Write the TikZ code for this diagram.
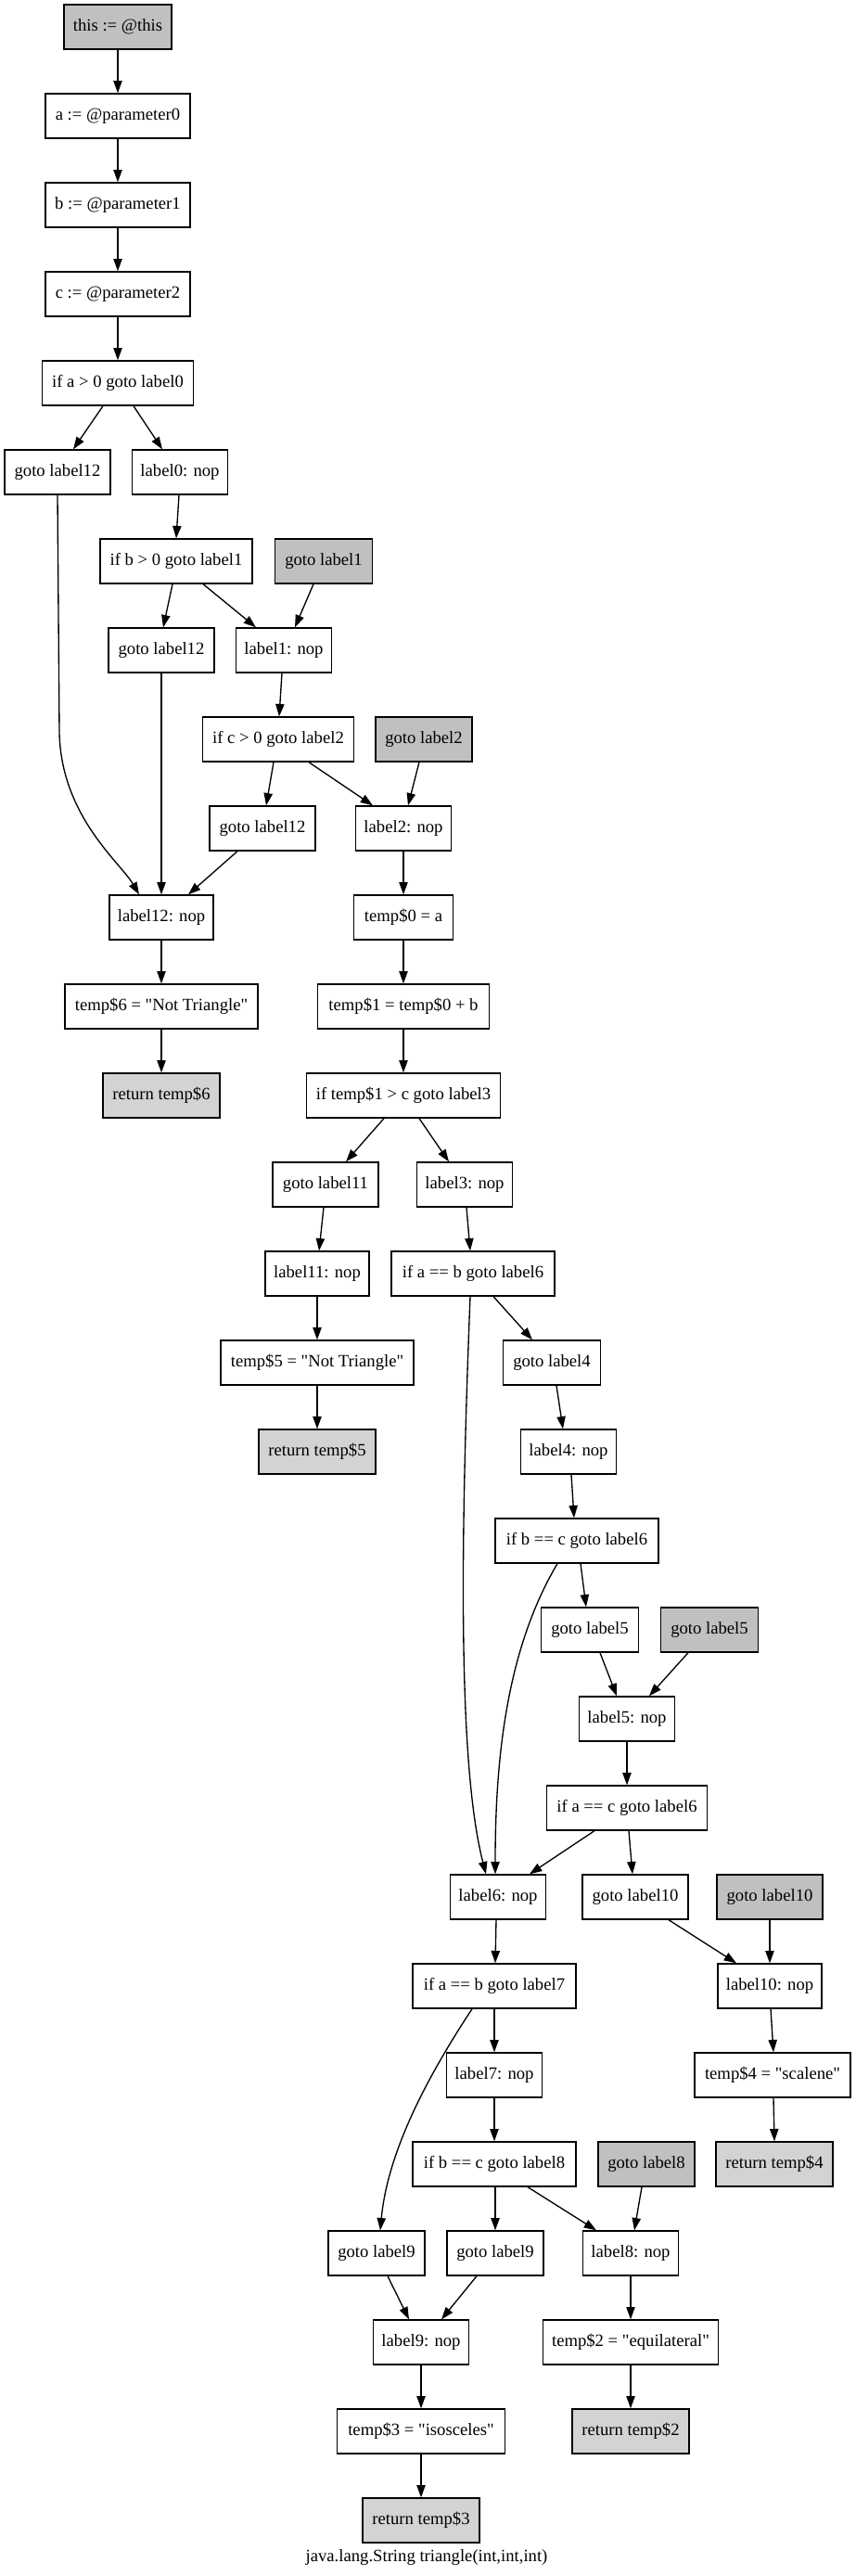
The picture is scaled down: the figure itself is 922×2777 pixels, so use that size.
\documentclass[tikz,border=0pt]{standalone}
\usepackage{fontspec}
\newfontfamily\gvfont{Liberation Serif}
\usetikzlibrary{arrows.meta,calc}
\definecolor{gvgray}{HTML}{C0C0C0}
\definecolor{gvlight}{HTML}{D3D3D3}
\newcommand\myedge[4]{\draw[edge] ($(#1.south)+(#2,0)$) -- ($(#3.north)+(#4,0)$);}
\begin{document}
\begin{tikzpicture}[x=0.75pt,y=-0.75pt,
  box/.style={draw=black,line width=1pt,rectangle,minimum height=36pt,inner sep=0pt,font=\gvfont\fontsize{14pt}{16pt}\selectfont},
  gbox/.style={box,fill=gvgray},
  rbox/.style={box,fill=gvlight},
  edge/.style={draw=black,line width=1pt,-{Triangle[length=10pt,width=7pt]}}]
\useasboundingbox[fill=white] (0,0) rectangle (922,2777);
% nodes
\node[gbox,minimum width=87pt] (n0) at (127,29) {this := @this};
\node[box,minimum width=117pt] (n1) at (127,125) {a := @parameter0};
\node[box,minimum width=117pt] (n2) at (127,221) {b := @parameter1};
\node[box,minimum width=117pt] (n3) at (127,317) {c := @parameter2};
\node[box,minimum width=122pt] (n4) at (127,413) {if a > 0 goto label0};
\node[box,minimum width=85.5pt] (n5) at (62,509) {goto label12};
\node[box,minimum width=77pt] (n6) at (194,509) {label0: nop};
\node[box,minimum width=123pt] (n7) at (190,605) {if b > 0 goto label1};
\node[gbox,minimum width=78.75pt] (n8) at (349,605) {goto label1};
\node[box,minimum width=85.5pt] (n9) at (174,701) {goto label12};
\node[box,minimum width=77pt] (n10) at (306,701) {label1: nop};
\node[box,minimum width=122pt] (n11) at (300,797) {if c > 0 goto label2};
\node[gbox,minimum width=78pt] (n12) at (457,797) {goto label2};
\node[box,minimum width=85.5pt] (n13) at (283,893) {goto label12};
\node[box,minimum width=77pt] (n14) at (435,893) {label2: nop};
\node[box,minimum width=84pt] (n15) at (174,989) {label12: nop};
\node[box,minimum width=80pt] (n16) at (435,989) {temp\$0 = a};
\node[box,minimum width=156pt] (n17) at (174,1085) {temp\$6 = "Not Triangle"};
\node[box,minimum width=139pt] (n18) at (435,1085) {temp\$1 = temp\$0 + b};
\node[rbox,minimum width=94.5pt] (n19) at (174,1181) {return temp\$6};
\node[box,minimum width=157pt] (n20) at (435,1181) {if temp\$1 > c goto label3};
\node[box,minimum width=85.5pt] (n21) at (351,1277) {goto label11};
\node[box,minimum width=77pt] (n22) at (501,1277) {label3: nop};
\node[box,minimum width=84pt] (n23) at (342,1373) {label11: nop};
\node[box,minimum width=132pt] (n24) at (510,1373) {if a == b goto label6};
\node[box,minimum width=156pt] (n25) at (342,1469) {temp\$5 = "Not Triangle"};
\node[box,minimum width=78.75pt] (n26) at (595,1469) {goto label4};
\node[rbox,minimum width=94.5pt] (n27) at (342,1565) {return temp\$5};
\node[box,minimum width=77pt] (n28) at (613,1565) {label4: nop};
\node[box,minimum width=132pt] (n29) at (622,1661) {if b == c goto label6};
\node[box,minimum width=78.75pt] (n30) at (636,1757) {goto label5};
\node[gbox,minimum width=78.75pt] (n31) at (765,1757) {goto label5};
\node[box,minimum width=77pt] (n32) at (676,1853) {label5: nop};
\node[box,minimum width=130pt] (n33) at (676,1949) {if a == c goto label6};
\node[box,minimum width=77pt] (n34) at (537,2045) {label6: nop};
\node[box,minimum width=85.5pt] (n35) at (685,2045) {goto label10};
\node[gbox,minimum width=85.5pt] (n36) at (830,2045) {goto label10};
\node[box,minimum width=132pt] (n37) at (533,2141) {if a == b goto label7};
\node[box,minimum width=84pt] (n38) at (830,2141) {label10: nop};
\node[box,minimum width=77pt] (n39) at (533,2237) {label7: nop};
\node[box,minimum width=126pt] (n40) at (833,2237) {temp\$4 = "scalene"};
\node[box,minimum width=132pt] (n41) at (533,2333) {if b == c goto label8};
\node[gbox,minimum width=78pt] (n42) at (697,2333) {goto label8};
\node[rbox,minimum width=94.5pt] (n43) at (835,2333) {return temp\$4};
\node[box,minimum width=78pt] (n44) at (406,2429) {goto label9};
\node[box,minimum width=78pt] (n45) at (534,2429) {goto label9};
\node[box,minimum width=77pt] (n46) at (680,2429) {label8: nop};
\node[box,minimum width=77pt] (n47) at (454,2525) {label9: nop};
\node[box,minimum width=142pt] (n48) at (680,2525) {temp\$2 = "equilateral"};
\node[box,minimum width=136pt] (n49) at (454,2621) {temp\$3 = "isosceles"};
\node[rbox,minimum width=94.5pt] (n50) at (680,2621) {return temp\$2};
\node[rbox,minimum width=94.5pt] (n51) at (454,2717) {return temp\$3};
\node[font=\gvfont\fontsize{14pt}{16pt}\selectfont] (cap) at (460,2757) {java.lang.String triangle(int,int,int)};
% edges
\myedge{n0}{0}{n1}{0}
\myedge{n1}{0}{n2}{0}
\myedge{n2}{0}{n3}{0}
\myedge{n3}{0}{n4}{0}
\myedge{n4}{-16}{n5}{17}
\myedge{n4}{17}{n6}{-19}
\draw[edge] (n5.south) -- (64,790) .. controls (66,880) and (130,930) .. ($(n15.north)+(-24,0)$);
\myedge{n6}{-1}{n7}{0}
\myedge{n7}{-4}{n9}{2}
\myedge{n7}{29}{n10}{-30}
\myedge{n8}{-11}{n10}{12}
\myedge{n10}{-2}{n11}{1}
\myedge{n11}{-5}{n13}{4}
\myedge{n11}{33}{n14}{-33}
\myedge{n12}{-5}{n14}{5}
\myedge{n9}{0}{n15}{0}
\myedge{n13}{-27}{n15}{29}
\myedge{n14}{0}{n16}{0}
\myedge{n15}{0}{n17}{0}
\myedge{n17}{0}{n19}{0}
\myedge{n16}{0}{n18}{0}
\myedge{n18}{0}{n20}{0}
\myedge{n20}{-21}{n21}{22}
\myedge{n20}{17}{n22}{-17}
\myedge{n21}{-2}{n23}{2}
\myedge{n22}{2}{n24}{-3}
\myedge{n23}{0}{n25}{0}
\myedge{n25}{0}{n27}{0}
\myedge{n24}{22}{n26}{-21}
\myedge{n26}{5}{n28}{-6}
\myedge{n28}{3}{n29}{-3}
\draw[edge] ($(n24.south)+(-3,0)$) .. controls (497,1650) and (493,1900) .. ($(n34.north)+(-13,0)$);
\draw[edge] ($(n29.south)+(-21,0)$) .. controls (545,1780) and (534,1900) .. ($(n34.north)+(-3,0)$);
\myedge{n29}{4}{n30}{-4}
\myedge{n30}{11}{n32}{-11}
\myedge{n31}{-23}{n32}{24}
\myedge{n32}{0}{n33}{0}
\myedge{n33}{-35}{n34}{34}
\myedge{n33}{2}{n35}{-3}
\myedge{n35}{36}{n38}{-36}
\myedge{n36}{0}{n38}{0}
\myedge{n34}{-2}{n37}{1}
\myedge{n37}{0}{n39}{0}
\draw[edge] ($(n37.south)+(-24,0)$) .. controls (460,2240) and (418,2320) .. ($(n44.north)+(4,0)$);
\myedge{n38}{1}{n40}{1}
\myedge{n40}{1}{n43}{0}
\myedge{n39}{0}{n41}{0}
\myedge{n41}{1}{n45}{0}
\myedge{n41}{36}{n46}{-37}
\myedge{n42}{-5}{n46}{4}
\myedge{n44}{12}{n47}{-13}
\myedge{n45}{-20}{n47}{22}
\myedge{n46}{0}{n48}{0}
\myedge{n48}{0}{n50}{0}
\myedge{n47}{0}{n49}{0}
\myedge{n49}{0}{n51}{0}
\end{tikzpicture}
\end{document}
